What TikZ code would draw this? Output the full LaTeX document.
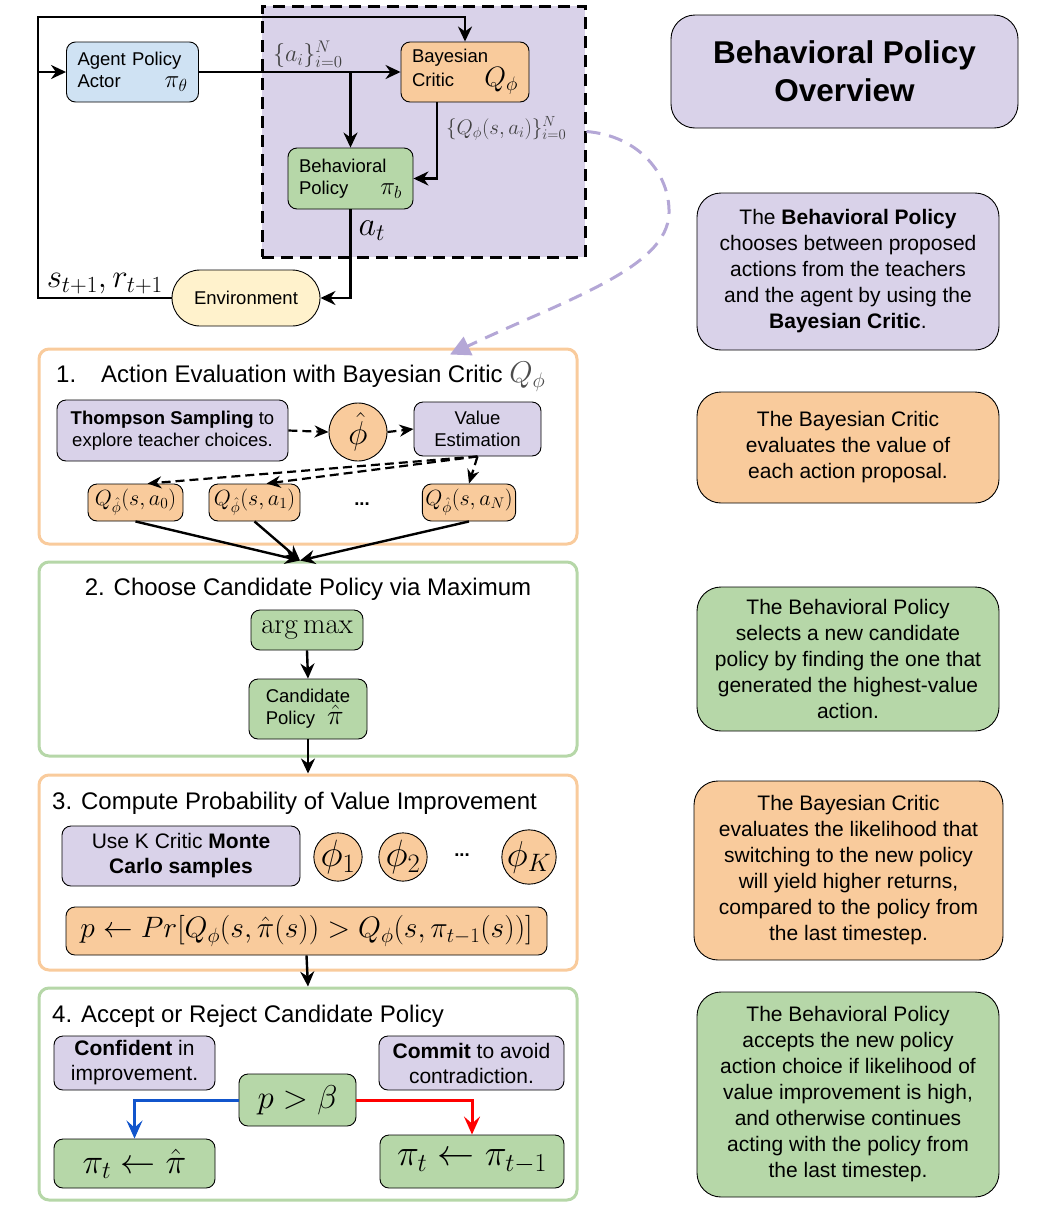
\RequirePackage{fix-cm}
\documentclass[tikz,border=0pt]{standalone}
\usepackage{amsmath}
\usepackage[no-math]{fontspec}
\setmainfont{Liberation Sans}
\usetikzlibrary{arrows.meta, positioning, backgrounds, calc}
\definecolor{PolPurple}{HTML}{D9D2E9}
\definecolor{CritOrange}{HTML}{F9CB9C}
\definecolor{PolGreen}{HTML}{B6D7A8}
\definecolor{ActBlue}{HTML}{CFE2F3}
\definecolor{EnvYellow}{HTML}{FFF2CC}
\definecolor{LinkLav}{HTML}{B4A7D6}
\definecolor{AcceptBlue}{HTML}{1155CC}
\definecolor{RejectRed}{HTML}{FF0000}
\newcommand\boxfs{\fontsize{18.5}{22}\selectfont}
\newcommand\boxfsL{\fontsize{21}{25}\selectfont}
\newcommand\headfs{\fontsize{24}{28}\selectfont}
\newcommand\notefs{\fontsize{21}{26}\selectfont}
\newcommand\titlefs{\fontsize{31.5}{38}\selectfont\bfseries}
\newcommand\mfs[1]{\fontsize{#1}{#1}\selectfont}

\begin{document}
\begin{tikzpicture}[x=1pt, y=-1pt, >=Stealth,
        box/.style={rectangle, draw=black, line width=0.9pt, rounded corners=9pt, font=\boxfs, align=center, inner sep=2pt},
        mathbox/.style={box, inner sep=3pt},
        sidebox/.style={box, align=left, inner xsep=11pt},
        note/.style={rectangle, draw=black, line width=0.9pt, rounded corners=24pt, font=\notefs, align=center, minimum width=302pt},
        frame/.style={rectangle, line width=3pt, rounded corners=10pt, fill=white, minimum width=538pt},
        head/.style={font=\headfs, inner sep=0pt},
        sample/.style={circle, draw=black, line width=0.9pt, fill=CritOrange, inner sep=0pt, minimum size=48pt},
        lbl/.style={text=black!75, inner sep=1pt},
        arr/.style={-{Stealth[length=15pt, width=14pt]}, line width=2.4pt},
        darr/.style={-{Stealth[length=14pt, width=12pt]}, line width=2.2pt, dash pattern=on 9pt off 5pt},
        choice/.style={-{Stealth[length=18pt, width=16pt, inset=7pt]}, line width=3pt}
    ]
    \useasboundingbox (0,0) rectangle (1055,1208);

    % Agent / critic loop
    \node[sidebox, fill=ActBlue, text width=110pt, minimum height=60pt] (agent) at (132.5,72) {Agent Policy\\Actor\hspace{0pt plus 1filll}{\mfs{25}$\pi_\theta$}};
    \node[sidebox, fill=CritOrange, text width=106pt, minimum height=60pt] (bcritic) at (465,72) {Bayesian\\Critic\hspace{0pt plus 1filll}{\mfs{28}$Q_\phi$}};
    \node[sidebox, fill=PolGreen, text width=103pt, minimum height=61pt] (bpol) at (350.5,178.5) {Behavioral\\Policy\hspace{0pt plus 1filll}{\mfs{25}$\pi_b$}};
    \node[box, fill=EnvYellow, rounded corners=28pt, minimum width=148pt, minimum height=56pt] (env) at (246,298) {Environment};
    \coordinate (loopL) at (38,17);

    \begin{scope}[on background layer]
        \node[draw=black, fill=PolPurple, line width=3pt, dash pattern=on 12pt off 7pt, minimum width=323pt, minimum height=251pt] (bpframe) at (423.5,131.5) {};
    \end{scope}

    \draw[arr] (env.west) -| node[lbl, pos=0.25, above=2pt, text=black] {\mfs{33}$s_{t+1}, r_{t+1}$} (loopL) -| (bcritic.north);
    \draw[arr] (agent.west -| loopL) -- (agent.west);
    \draw[arr] (agent.east) -- node[lbl, pos=0.54, above=2pt] {\mfs{24}$\{a_i\}_{i=0}^N$} (bcritic.west);
    \draw[arr] (agent.east -| bpol.north) -- (bpol.north);
    \draw[arr] ([xshift=-28pt]bcritic.south) |- node[lbl, pos=0.17, right=7pt] {\mfs{21}$\{Q_\phi(s,a_i)\}_{i=0}^N$} (bpol.east);
    \draw[arr] (bpol.south) |- node[lbl, pos=0.12, right=6pt, text=black] {\mfs{34}$a_t$} (env.east);

    % Step frames
    \node[frame, draw=CritOrange, minimum height=195pt] (sec1) at (308,446.5) {};
    \node[frame, draw=PolGreen, minimum height=194pt] (sec2) at (308,659) {};
    \node[frame, draw=CritOrange, minimum height=195pt] (sec3) at (308,872.5) {};
    \node[frame, draw=PolGreen, minimum height=212pt] (sec4) at (308,1094) {};

    % Link from the policy box to the steps
    \coordinate (linkA) at (bpframe.east);
    \coordinate (linkB) at ([xshift=142pt, yshift=-7pt]sec1.north);
    \draw[LinkLav, line width=3pt, dash pattern=on 14pt off 9pt, -{Triangle[length=20pt, width=20pt]}] (linkA) .. controls (640,136) and (670,175) .. (669,213) .. controls (668,268) and (565,300) .. (linkB);

    % 1. Action evaluation
    \node[head, anchor=west] (h1) at (56,377) {1.\hspace{25pt}Action Evaluation with Bayesian Critic {\mfs{30}\color{black!70}$Q_\phi$}};
    \node[box, fill=PolPurple, minimum width=231pt, minimum height=61pt] (thompson) at (172.5,430.5) {\textbf{Thompson Sampling} to\\explore teacher choices.};
    \node[sample, minimum size=58pt] (phihat) at (358,432) {\mfs{33}$\hat\phi$};
    \node[box, fill=PolPurple, minimum width=127pt, minimum height=54pt] (valest) at (477.5,429) {Value\\Estimation};
    \node[mathbox, fill=CritOrange, minimum width=95pt, minimum height=37pt] (q0) at (135.5,502.5) {\mfs{22}$Q_{\hat\phi}(s,a_0)$};
    \node[mathbox, fill=CritOrange, minimum width=91pt, minimum height=37pt] (q1) at (254.5,502.5) {\mfs{22}$Q_{\hat\phi}(s,a_1)$};
    \node[font=\boxfs\bfseries] (qdots) at (362,504) {...};
    \node[mathbox, fill=CritOrange, minimum width=90pt, minimum height=37pt] (qn) at (469,502.5) {\mfs{22}$Q_{\hat\phi}(s,a_N)$};

    \draw[darr] (thompson.east) -- (phihat.west);
    \draw[darr] (phihat.east) -- (valest.west);
    \draw[darr] (valest.south) -- ([xshift=12pt]q0.north);
    \draw[darr] (valest.south) -- ([xshift=12pt]q1.north);
    \draw[darr] (valest.south) -- (qn.north);

    \coordinate (merge) at ([xshift=-8pt]sec2.north);
    \draw[arr] (q0.south) -- (merge);
    \draw[arr] (q1.south) -- (merge);
    \draw[arr] (qn.south) -- (merge);

    % 2. Candidate policy
    \node[head] (h2) at (308,589) {2. Choose Candidate Policy via Maximum};
    \node[mathbox, fill=PolGreen, minimum width=112pt, minimum height=40pt] (argmax) at (307,630) {\mfs{29}$\arg\max$};
    \node[box, fill=PolGreen, align=left, minimum width=118pt, minimum height=60pt] (cand) at (308,709) {Candidate\\Policy\hspace{12pt}{\mfs{28}$\hat\pi$}};
    \draw[arr] (argmax.south) -- (cand.north);
    \draw[arr] (cand.south) -- (sec3.north);

    % 3. Probability of improvement
    \node[head, anchor=west] (h3) at (52,803) {3. Compute Probability of Value Improvement};
    \node[box, font=\boxfsL, fill=PolPurple, minimum width=238pt, minimum height=60pt] (mcbox) at (181,856) {Use K Critic \textbf{Monte}\\\textbf{Carlo samples}};
    \node[sample] (phi1) at (338,857) {\mfs{38}$\phi_1$};
    \node[sample] (phi2) at (403,857) {\mfs{38}$\phi_2$};
    \node[font=\boxfs\bfseries] (phidots) at (462,855) {...};
    \node[sample] (phik) at (529,857) {\mfs{36}$\phi_K$};
    \node[mathbox, fill=CritOrange, minimum width=481pt, minimum height=48pt] (prob) at (306.5,931) {\mfs{29.5}$p \leftarrow Pr[Q_\phi(s,\hat\pi(s)) > Q_\phi(s,\pi_{t-1}(s))]$};
    \draw[arr] (prob.south) -- (sec4.north);

    % 4. Accept or reject
    \node[head, anchor=west] (h4) at (52,1016) {4. Accept or Reject Candidate Policy};
    \node[box, font=\boxfsL, fill=PolPurple, minimum width=161pt, minimum height=54pt] (confident) at (134.5,1063) {\textbf{Confident} in\\improvement.};
    \node[box, font=\boxfsL, fill=PolPurple, minimum width=185pt, minimum height=54pt] (commit) at (471.5,1063) {\textbf{Commit} to avoid\\contradiction.};
    \node[mathbox, fill=PolGreen, minimum width=117pt, minimum height=52pt] (pbeta) at (297.5,1100) {\mfs{33}$p > \beta$};
    \node[mathbox, fill=PolGreen, minimum width=161pt, minimum height=49pt] (accept) at (134.5,1163.5) {\mfs{35}$\pi_t \leftarrow \hat\pi$};
    \node[mathbox, fill=PolGreen, minimum width=184pt, minimum height=53pt] (reject) at (472,1161.5) {\mfs{37}$\pi_t \leftarrow \pi_{t-1}$};
    \draw[choice, AcceptBlue] (pbeta.west) -| (accept.north);
    \draw[choice, RejectRed] (pbeta.east) -| (reject.north);

    % Side notes
    \node[note, fill=PolPurple, font=\titlefs, minimum width=347pt, minimum height=113pt] (title) at (844.5,71.5) {Behavioral Policy\\Overview};
    \node[note, fill=PolPurple, minimum height=157pt] (note1) at (848,271.5) {The \textbf{Behavioral Policy}\\chooses between proposed\\actions from the teachers\\and the agent by using the\\\textbf{Bayesian Critic}.};
    \node[note, fill=CritOrange, minimum height=111pt] (note2) at (848,447.5) {The Bayesian Critic\\evaluates the value of\\each action proposal.};
    \node[note, fill=PolGreen, minimum height=144pt] (note3) at (848,659) {The Behavioral Policy\\selects a new candidate\\policy by finding the one that\\generated the highest-value\\action.};
    \node[note, fill=CritOrange, minimum width=309pt, minimum height=179pt] (note4) at (848.5,870.5) {The Bayesian Critic\\evaluates the likelihood that\\switching to the new policy\\will yield higher returns,\\compared to the policy from\\the last timestep.};
    \node[note, fill=PolGreen, minimum height=205pt] (note5) at (848,1094.5) {The Behavioral Policy\\accepts the new policy\\action choice if likelihood of\\value improvement is high,\\and otherwise continues\\acting with the policy from\\the last timestep.};

\end{tikzpicture}
\end{document}
